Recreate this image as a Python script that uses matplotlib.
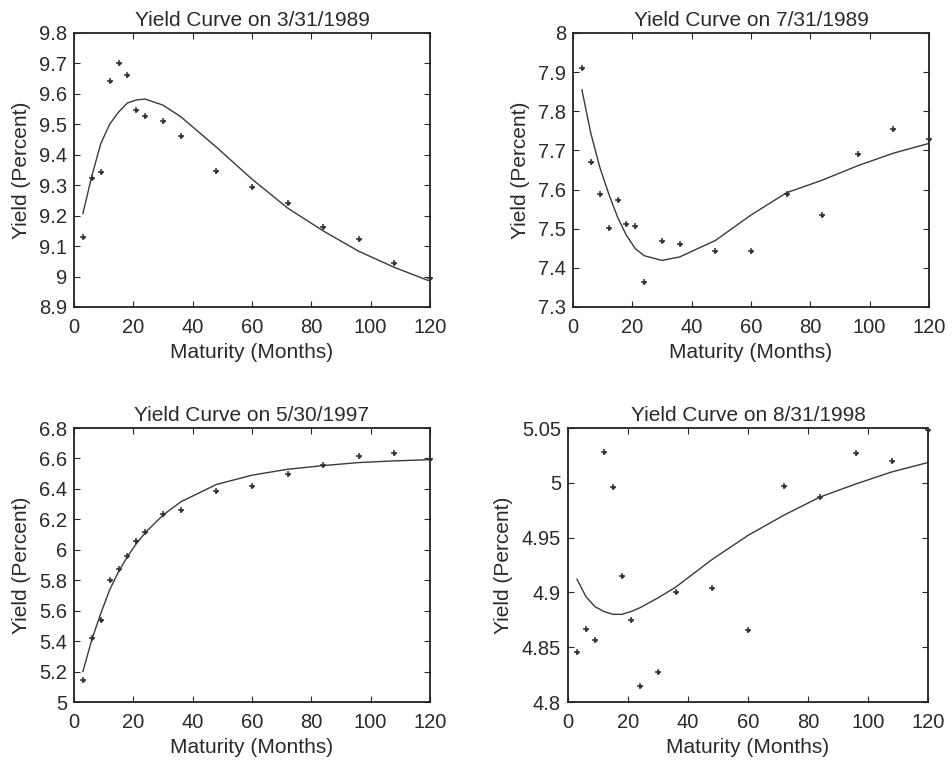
import matplotlib
matplotlib.use("Agg")
import matplotlib.pyplot as plt
import numpy as np

plt.rcParams['font.family'] = ['Liberation Sans', 'DejaVu Sans']

maturities = [3, 6, 9, 12, 15, 18, 21, 24, 30, 36, 48, 60, 72, 84, 96, 108, 120]

titles = ["Yield Curve on 3/31/1989", "Yield Curve on 7/31/1989",
          "Yield Curve on 5/30/1997", "Yield Curve on 8/31/1998"]

obs_1989_03 = [9.13, 9.325, 9.344, 9.643, 9.70, 9.662, 9.548, 9.526, 9.511, 9.462,
               9.348, 9.294, 9.242, 9.163, 9.124, 9.043, 8.995]
fit_1989_03 = [9.207, 9.33, 9.436, 9.50, 9.54, 9.57, 9.58, 9.583, 9.563, 9.525,
               9.425, 9.32, 9.225, 9.15, 9.083, 9.03, 8.985]

obs_1989_07 = [7.91, 7.67, 7.588, 7.503, 7.573, 7.512, 7.506, 7.365, 7.468, 7.462,
               7.443, 7.443, 7.588, 7.535, 7.691, 7.755, 7.728]
fit_1989_07 = [7.855, 7.744, 7.658, 7.59, 7.53, 7.483, 7.449, 7.431, 7.419, 7.428,
               7.47, 7.535, 7.592, 7.624, 7.661, 7.693, 7.718]

obs_1997_05 = [5.144, 5.42, 5.538, 5.80, 5.876, 5.957, 6.06, 6.12, 6.232, 6.26,
               6.387, 6.416, 6.50, 6.557, 6.619, 6.634, 6.597]
fit_1997_05 = [5.20, 5.41, 5.58, 5.736, 5.856, 5.955, 6.04, 6.112, 6.228, 6.315,
               6.429, 6.49, 6.529, 6.553, 6.573, 6.584, 6.592]

obs_1998_08 = [4.846, 4.867, 4.857, 5.028, 4.996, 4.915, 4.875, 4.815, 4.827, 4.90,
               4.904, 4.866, 4.9975, 4.9875, 5.027, 5.0197, 5.048]
fit_1998_08 = [4.912, 4.896, 4.887, 4.8825, 4.880, 4.880, 4.8825, 4.886, 4.895, 4.905,
               4.93, 4.952, 4.9705, 4.987, 4.999, 5.01, 5.0185]

ylims = [(8.9, 9.8), (7.3, 8.0), (5.0, 6.8), (4.8, 5.05)]
yticks = [[8.9, 9.0, 9.1, 9.2, 9.3, 9.4, 9.5, 9.6, 9.7, 9.8],
          [7.3, 7.4, 7.5, 7.6, 7.7, 7.8, 7.9, 8.0],
          [5.0, 5.2, 5.4, 5.6, 5.8, 6.0, 6.2, 6.4, 6.6, 6.8],
          [4.8, 4.85, 4.9, 4.95, 5.0, 5.05]]
yticklabels = [["8.9", "9", "9.1", "9.2", "9.3", "9.4", "9.5", "9.6", "9.7", "9.8"],
               ["7.3", "7.4", "7.5", "7.6", "7.7", "7.8", "7.9", "8"],
               ["5", "5.2", "5.4", "5.6", "5.8", "6", "6.2", "6.4", "6.6", "6.8"],
               ["4.8", "4.85", "4.9", "4.95", "5", "5.05"]]
xticks = [0, 20, 40, 60, 80, 100, 120]

obs_all = [obs_1989_03, obs_1989_07, obs_1997_05, obs_1998_08]
fit_all = [fit_1989_03, fit_1989_07, fit_1997_05, fit_1998_08]

W, H = 952, 765
fig = plt.figure(figsize=(W / 100, H / 100), dpi=100)
fig.patch.set_facecolor('white')

# axes boxes in pixels: left, top, right, bottom
boxes = [(74, 33, 430, 307), (573, 33, 929, 307),
         (74, 428, 430, 702), (568, 428, 928, 702)]

txt = '#2a2a2a'
lc = '#3a3a3a'
for i in range(4):
    l, t, r, b = boxes[i]
    ax = fig.add_axes([l / W, 1 - b / H, (r - l) / W, (b - t) / H])
    ax.plot(maturities, fit_all[i], color=lc, lw=1.0, zorder=2)
    ax.plot(maturities, obs_all[i], linestyle='none', marker='+', ms=5, mew=1.1,
            color='#333333', clip_on=False, zorder=3)
    ax.plot(maturities, obs_all[i], linestyle='none', marker='o', ms=2.6, mew=0,
            color='#333333', clip_on=False, zorder=3)
    ax.set_xlim(0, 120)
    ax.set_ylim(*ylims[i])
    ax.set_xticks(xticks)
    ax.set_yticks(yticks[i])
    ax.set_yticklabels(yticklabels[i])
    ax.tick_params(direction='in', top=True, right=True, length=4, width=0.8,
                   labelsize=14.5, colors=txt)
    ax.tick_params(axis='x', pad=8)
    ax.tick_params(axis='y', pad=5)
    for s in ax.spines.values():
        s.set_linewidth(1.3)
        s.set_color('#222222')
    ax.set_title(titles[i], fontsize=15, color=txt, pad=5)
    ax.set_xlabel("Maturity (Months)", fontsize=15, color=txt, labelpad=4)
    ax.set_ylabel("Yield (Percent)", fontsize=15, color=txt, labelpad=6)

fig.savefig("out.png", dpi=100)
